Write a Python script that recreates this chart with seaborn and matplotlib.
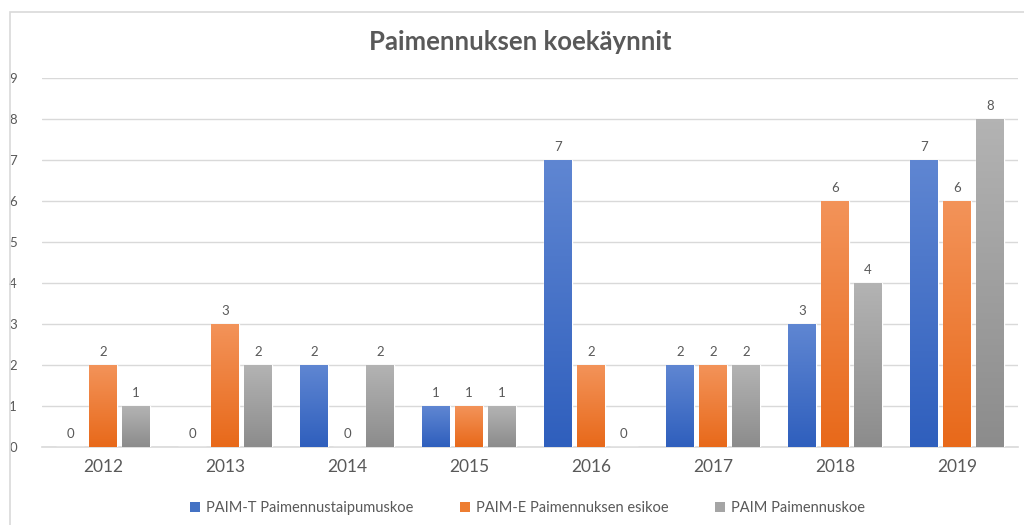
import numpy as np
import pandas as pd
import seaborn as sns
import matplotlib.pyplot as plt
from matplotlib.patches import Patch, Rectangle
from matplotlib.colors import LinearSegmentedColormap

# --------- Data ---------
years = ["2012", "2013", "2014", "2015", "2016", "2017", "2018", "2019"]
series = [
    "PAIM-T Paimennustaipumuskoe",
    "PAIM-E Paimennuksen esikoe",
    "PAIM Paimennuskoe",
]
paim_t = [0, 0, 2, 1, 7, 2, 3, 7]
paim_e = [2, 3, 0, 1, 2, 2, 6, 6]
paim = [1, 2, 2, 1, 0, 2, 4, 8]

# gradient colours per series (top, bottom)
grad = {
    series[0]: ("#5f86d2", "#2f5fbd"),
    series[1]: ("#f39359", "#e8691a"),
    series[2]: ("#b3b3b3", "#8c8c8c"),
}
mid = {series[0]: "#4472c4", series[1]: "#ed7d31", series[2]: "#a5a5a5"}

df = pd.DataFrame({
    "year": years * 3,
    "series": [series[0]] * 8 + [series[1]] * 8 + [series[2]] * 8,
    "count": paim_t + paim_e + paim,
})

TXT = "#595959"
sns.set_theme(style="white")
plt.rcParams["font.family"] = ["Lato", "DejaVu Sans"]

fig = plt.figure(figsize=(10.24, 5.25), dpi=100)
ax = fig.add_axes([0.041, 0.1486, 0.953, 0.7028])

# chart frame (open to the right / bottom like the cropped screenshot)
fig.patches.append(Rectangle((10 / 1024, -0.1), 1.2, 1 - 12 / 525 + 0.1,
                             transform=fig.transFigure, fill=False,
                             edgecolor="#d9d9d9", lw=1.2, zorder=0))

sns.barplot(data=df, x="year", y="count", hue="series", hue_order=series,
            palette=mid, width=0.81, gap=0.15, legend=False, ax=ax,
            saturation=1, zorder=3)

# gradient fill for every bar
for cont, name in zip(ax.containers, series):
    cmap = LinearSegmentedColormap.from_list(name, [grad[name][1], grad[name][0]])
    for bar in cont:
        h = bar.get_height()
        if h <= 0:
            continue
        x0 = bar.get_x()
        w = bar.get_width()
        # soft shadow
        ax.add_patch(Rectangle((x0 + 0.012, 0), w, h - 0.04, color="black",
                               alpha=0.12, lw=0, zorder=2))
        img = ax.imshow(np.linspace(0, 1, 100).reshape(-1, 1), cmap=cmap,
                        origin="lower", aspect="auto",
                        extent=[x0, x0 + w, 0, h], zorder=3.5)
        img.set_clip_path(bar)
    ax.bar_label(cont, padding=5, fontsize=9.5, color=TXT)

ax.set_xlim(-0.5, 7.5)
ax.set_ylim(0, 9)
ax.set_yticks(range(10))
ax.yaxis.grid(True, color="#d9d9d9", lw=1, zorder=0)
ax.set_axisbelow(True)
for s in ["top", "right", "left"]:
    ax.spines[s].set_visible(False)
ax.spines["bottom"].set_color("#d9d9d9")
ax.spines["bottom"].set_linewidth(1.2)
ax.tick_params(axis="y", labelsize=9.5, labelcolor=TXT, length=0, pad=18)
ax.tick_params(axis="x", labelsize=12.5, labelcolor=TXT, length=0, pad=9)
ax.set_xlabel("")
ax.set_ylabel("")

fig.text(0.508, 0.92, "Paimennuksen koekäynnit", ha="center", va="center",
         fontsize=18.5, fontweight="bold", color=TXT)

handles = [Patch(facecolor=mid[s], edgecolor="none") for s in series]
fig.legend(handles, series, loc="center", bbox_to_anchor=(0.515, 0.032),
           ncol=3, frameon=False, fontsize=10.5, labelcolor=TXT,
           handlelength=0.7, handleheight=0.7, handletextpad=0.4,
           columnspacing=3.2)

fig.savefig("out.png", dpi=100, facecolor="white")
